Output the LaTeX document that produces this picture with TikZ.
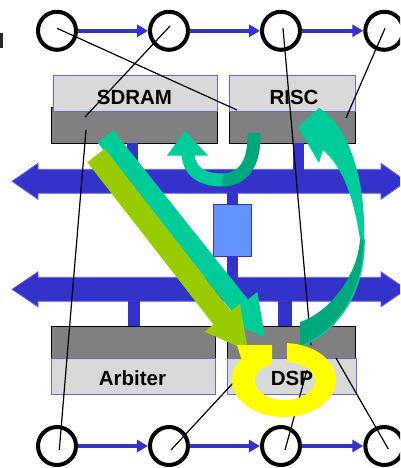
\documentclass[tikz,border=0pt]{standalone}
\usepackage{fontspec}
\setmainfont{Liberation Sans}
\usetikzlibrary{arrows.meta,calc}
\definecolor{busblue}{HTML}{3333CC}
\definecolor{busedge}{HTML}{6666DD}
\definecolor{boxlight}{HTML}{D9D9D9}
\definecolor{boxdark}{HTML}{808080}
\definecolor{midblue}{HTML}{6495FF}
\definecolor{tealA}{HTML}{00CC99}
\definecolor{tealB}{HTML}{00A67C}
\definecolor{limegreen}{HTML}{99CC00}
\definecolor{ringyellow}{HTML}{FFFF00}
% #1 colour, #2 tail, #3 tip, #4 shaft half width, #5 head half width, #6 head length
\newcommand{\fatarr}[6]{%
  \coordinate (fatB) at ($(#3)!#6!(#2)$);
  \fill[#1] ($(#2)!#4!90:(#3)$) -- ($(fatB)!#4!90:(#3)$) -- ($(fatB)!#5!90:(#3)$)
    -- (#3) -- ($(fatB)!#5!-90:(#3)$) -- ($(fatB)!#4!-90:(#3)$) -- ($(#2)!#4!-90:(#3)$) -- cycle;}
\begin{document}
\begin{tikzpicture}[x=1pt,y=-1pt,
  circnode/.style={circle,draw=black,line width=4pt,minimum size=38pt,inner sep=0pt},
  linkarrow/.style={draw=busblue,line width=4.5pt,-{Triangle[length=11pt,width=12pt]}},
  lbox/.style={fill=boxlight,draw=busedge,line width=1pt},
  dbox/.style={fill=boxdark,draw=black,line width=1pt},
  busstub/.style={fill=busblue},
  busbar/.style={fill=busblue,draw=busedge,line width=0.8pt},
  wireline/.style={draw=black,line width=1.2pt},
  boxtext/.style={font=\fontsize{20.5}{24}\selectfont\bfseries,anchor=base,inner sep=0pt}]
\useasboundingbox (0,0) rectangle (400,468);
\clip (0,0) rectangle (400,468);
\fill[white] (0,0) rectangle (400,468);
\fill[black!85] (0,33) rectangle (2.5,48);

% boxes
\draw[dbox] (51,108) rectangle (217,143);
\draw[lbox] (53,76) rectangle (217,112);
\draw[dbox] (229,112) rectangle (355,143);
\draw[lbox] (229,76) rectangle (355,112);
\draw[dbox] (51,326) rectangle (215,358);
\draw[lbox] (51,358) rectangle (215,394);
\draw[dbox] (227,326) rectangle (355,358);
\draw[lbox] (227,358) rectangle (356,394);
\node[boxtext] (sdram) at (134.5,105) {SDRAM};
\node[boxtext] (risc) at (294,105) {RISC};
\node[boxtext] (arb) at (132.5,385) {Arbiter};
\node[boxtext] (dsp) at (292,385) {DSP};

% buses
\filldraw[busbar] (12,181.3) -- (38,163.3) -- (38,169.3) -- (381,169.3) -- (381,163.3) -- (406.6,181.3)
  -- (381,199.3) -- (381,193.3) -- (38,193.3) -- (38,199.3) -- cycle;
\filldraw[busbar] (12,289.3) -- (38,271.8) -- (38,277.3) -- (381,277.3) -- (381,271.8) -- (406.6,289.3)
  -- (381,306.8) -- (381,301.3) -- (38,301.3) -- (38,306.8) -- cycle;
\fill[busstub] (127,143) rectangle (137.5,170);
\fill[busstub] (293,143) rectangle (304,170);
\fill[busstub] (227,192.5) rectangle (238.3,205);
\fill[busstub] (227,256) rectangle (238.3,278);
\fill[busstub] (128.3,300.5) rectangle (140,326);
\fill[busstub] (278.3,300.5) rectangle (291.7,326);
\draw[fill=midblue,draw=busblue,line width=1pt] (213.3,204.3) rectangle (251.7,256.7);

% circles and links
\node[circnode] (t1) at (57,30.8) {};
\node[circnode] (t2) at (169,30.8) {};
\node[circnode] (t3) at (281,30.8) {};
\node[circnode] (t4) at (384.3,30.8) {};
\node[circnode] (b1) at (57,446) {};
\node[circnode] (b2) at (169,446) {};
\node[circnode] (b3) at (281,446) {};
\node[circnode] (b4) at (384.3,446) {};
\draw[linkarrow] (t1) -- (t2);
\draw[linkarrow] (t2) -- (t3);
\draw[linkarrow] (t3) -- (t4);
\draw[linkarrow] (b1) -- (b2);
\draw[linkarrow] (b2) -- (b3);
\draw[linkarrow] (b3) -- (b4);

% wires
\coordinate (e1) at (237,110);
\coordinate (e2) at (85,117);
\coordinate (e3) at (311,345);
\coordinate (e4) at (346,118);
\coordinate (e5) at (86,130);
\coordinate (e6) at (240,375.5);
\coordinate (e7) at (307,370);
\coordinate (e8) at (336,358);
\draw[wireline] ([yshift=2.5pt]t1.center) -- (e1);
\draw[wireline] ([shift={(1pt,4.8pt)}]t2.center) -- (e2);
\draw[wireline] ([shift={(2pt,2.5pt)}]t3.center) -- (e3);
\draw[wireline] ([shift={(0.7pt,2.5pt)}]t4.center) -- (e4);
\draw[wireline] ([shift={(2.3pt,-4pt)}]b1.center) -- (e5);
\draw[wireline] ([shift={(2pt,-4pt)}]b2.center) -- (e6);
\draw[wireline] ([shift={(4pt,-4pt)}]b3.center) -- (e7);
\draw[wireline] ([shift={(4pt,-3pt)}]b4.center) -- (e8);

% straight fat arrows
\coordinate (tealT) at (105.5,136.5);
\coordinate (tealP) at (265,337);
\coordinate (limeT) at (96,155.5);
\coordinate (limeP) at (248,351);
\fatarr{tealA}{tealT}{tealP}{10pt}{22pt}{40pt}
\fatarr{limegreen}{limeT}{limeP}{11pt}{22.5pt}{42pt}

% U-turn arrow
\draw[tealB,line width=13pt] (254,133) .. controls (255,165) and (242,180) .. (222,180);
\draw[tealA,line width=13pt] (222.5,180) .. controls (200,180) and (189,170) .. (188,154.5);
\fill[tealA] (185,131) -- (208,155.5) -- (167,155.5) -- cycle;

% big curved arrow on the right
\fill[tealB] (364,239) .. controls (365,290) and (340,330) .. (300,347) -- (300,322)
  .. controls (330,312) and (358,275) .. (360,239) -- cycle;
\draw[tealA,line width=1.5pt] (364,239) .. controls (365,290) and (340,330) .. (300,347);
\fill[tealA] (298,127) -- (319,108) .. controls (344,122) and (366,170) .. (364,239)
  -- (360,239) .. controls (354,200) and (344,168) .. (323,150) -- (319,163) -- cycle;

% yellow circular arrow
\fill[ringyellow] (287,343.1) arc[start angle=-86.7,end angle=215,x radius=52,y radius=37]
  -- (237,345) -- (272,345) -- (272,363.9)
  arc[start angle=244.3,end angle=-86.2,x radius=30,y radius=19] -- cycle;
\end{tikzpicture}
\end{document}
